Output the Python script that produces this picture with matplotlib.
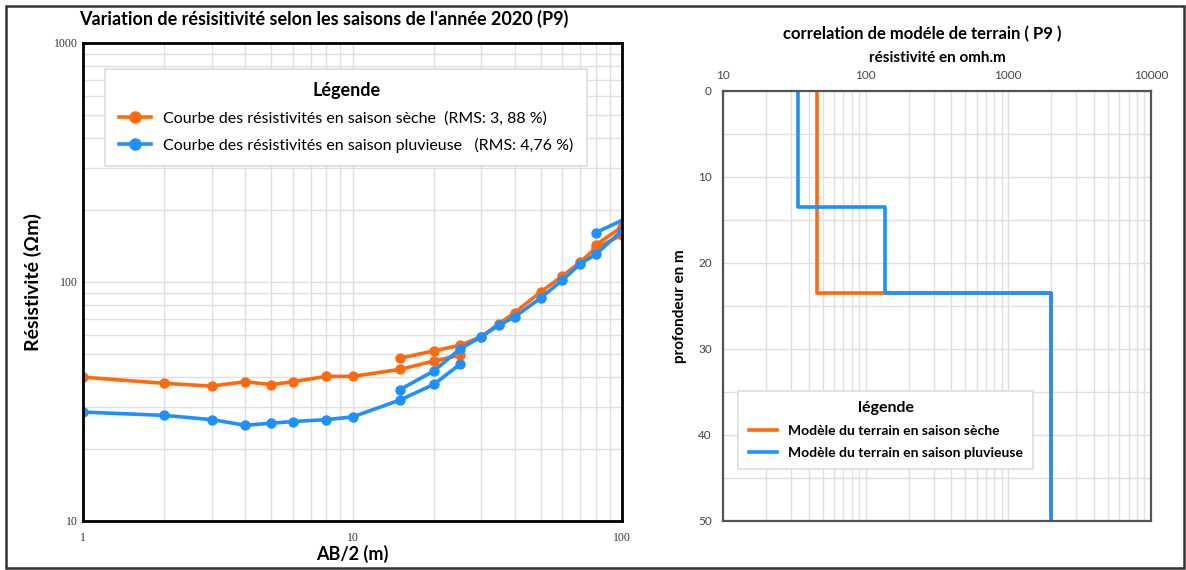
import matplotlib
matplotlib.use("Agg")
import matplotlib.pyplot as plt
from matplotlib.patches import Rectangle
from matplotlib.ticker import LogLocator, FixedLocator, NullFormatter, FuncFormatter

plt.rcParams['font.family'] = ['Lato', 'DejaVu Sans']

ORANGE = '#ff6a0e'
BLUE = '#1e90ff'

# courbes de sondage (segments qui se chevauchent)
ab2_seg1 = [1, 2, 3, 4, 5, 6, 8, 10, 15, 20, 25]
ab2_seg2 = [15, 20, 25, 30, 35, 40, 50, 60, 70, 80, 100]
ab2_seg3 = [80, 100]

rho_sec_1 = [39.9, 37.6, 36.6, 38.2, 37.1, 38.2, 40.2, 40.2, 43.0, 46.6, 49.3]
rho_sec_2 = [47.9, 51.4, 54.2, 58.9, 66.9, 74.4, 90.8, 105.7, 121, 139, 157]
rho_sec_3 = [143, 170]

rho_pluie_1 = [28.5, 27.6, 26.5, 25.1, 25.6, 26.0, 26.5, 27.2, 32.0, 37.2, 45.1]
rho_pluie_2 = [35.4, 42.3, 52.3, 58.9, 65.9, 71.4, 85.7, 101.6, 119, 130.6, 164]
rho_pluie_3 = [160.7, 181]

# modèles de terrain
rho_mod_sec = [45.8, 45.8, 2000, 2000]
prof_mod_sec = [0, 23.5, 23.5, 50]
rho_mod_pluie = [33.5, 33.5, 136, 136, 2000, 2000]
prof_mod_pluie = [0, 13.5, 13.5, 23.5, 23.5, 50]

fig = plt.figure(figsize=(11.86, 5.70), dpi=100)

# ---- graphique de gauche
ax = fig.add_axes([0.0700, 0.0865, 0.4545, 0.8381])
ax.set_xscale('log')
ax.set_yscale('log')
ax.set_xlim(1, 100)
ax.set_ylim(10, 1000)

kw = dict(marker='o', markersize=7.5, linewidth=2.6, markeredgewidth=0)
l1, = ax.plot(ab2_seg1, rho_sec_1, color=ORANGE, **kw)
ax.plot(ab2_seg2, rho_sec_2, color=ORANGE, **kw)
ax.plot(ab2_seg3, rho_sec_3, color=ORANGE, **kw)
l2, = ax.plot(ab2_seg1, rho_pluie_1, color=BLUE, **kw)
ax.plot(ab2_seg2, rho_pluie_2, color=BLUE, **kw)
ax.plot(ab2_seg3, rho_pluie_3, color=BLUE, markevery=[0], **kw)

ax.xaxis.set_major_locator(FixedLocator([1, 10, 100]))
ax.yaxis.set_major_locator(FixedLocator([10, 100, 1000]))
ax.xaxis.set_minor_locator(LogLocator(base=10, subs=range(2, 10)))
ax.yaxis.set_minor_locator(LogLocator(base=10, subs=range(2, 10)))
ax.xaxis.set_minor_formatter(NullFormatter())
ax.yaxis.set_minor_formatter(NullFormatter())
fmt = FuncFormatter(lambda v, p: '%d' % v)
ax.xaxis.set_major_formatter(fmt)
ax.yaxis.set_major_formatter(fmt)
ax.tick_params(which='both', length=0)
ax.tick_params(axis='both', labelsize=8.5, colors='#333333')
for lab in ax.get_xticklabels() + ax.get_yticklabels():
    lab.set_family('Liberation Serif')
ax.tick_params(axis='x', pad=8)
ax.tick_params(axis='y', pad=4)
ax.grid(True, which='both', color='#e0e0e0', linewidth=1)
ax.set_axisbelow(True)
for s in ax.spines.values():
    s.set_linewidth(2)
    s.set_color('black')

ax.set_title("Variation de résisitivité selon les saisons de l'année 2020 (P9)",
             fontsize=13, fontweight='bold', pad=13, x=0.446)
ax.set_xlabel('AB/2 (m)', fontsize=13, fontweight='bold', labelpad=1)
ax.set_ylabel('Résistivité (Ωm)', fontsize=14, fontweight='bold', labelpad=8)

leg = ax.legend([l1, l2],
                ['Courbe des résistivités en saison sèche  (RMS: 3, 88 %)',
                 'Courbe des résistivités en saison pluvieuse   (RMS: 4,76 %)'],
                title='Légende', loc='upper left',
                bbox_to_anchor=(0.026, 0.963), fontsize=11.5,
                title_fontproperties={'weight': 'bold', 'size': 13},
                fancybox=False, edgecolor='#dddddd', framealpha=1,
                borderpad=0.85, handlelength=2.0, labelspacing=0.75,
                markerscale=1.2)
leg.get_frame().set_linewidth(1.2)

# ---- graphique de droite
ax2 = fig.add_axes([0.6096, 0.0865, 0.3607, 0.7539])
ax2.set_xscale('log')
ax2.set_xlim(10, 10000)
ax2.set_ylim(50, 0)
m1, = ax2.plot(rho_mod_sec, prof_mod_sec, color=ORANGE, linewidth=2.6)
m2, = ax2.plot(rho_mod_pluie, prof_mod_pluie, color=BLUE, linewidth=2.6)

ax2.xaxis.set_major_locator(FixedLocator([10, 100, 1000, 10000]))
ax2.xaxis.set_minor_locator(LogLocator(base=10, subs=range(2, 10)))
ax2.xaxis.set_minor_formatter(NullFormatter())
ax2.xaxis.set_major_formatter(fmt)
ax2.yaxis.set_major_locator(FixedLocator([0, 10, 20, 30, 40, 50]))
ax2.yaxis.set_minor_locator(FixedLocator([5, 15, 25, 35, 45]))
ax2.xaxis.tick_top()
ax2.xaxis.set_label_position('top')
ax2.tick_params(which='both', length=0)
ax2.tick_params(axis='both', labelsize=8.5, colors='#444444')
ax2.tick_params(axis='x', pad=7)
ax2.tick_params(axis='y', pad=8)
ax2.grid(True, which='both', color='#e0e0e0', linewidth=1)
ax2.set_axisbelow(True)
for s in ax2.spines.values():
    s.set_linewidth(1.6)
    s.set_color('#555555')

ax2.set_xlabel('résistivité en omh.m', fontsize=11, fontweight='bold', labelpad=6)
ax2.set_ylabel('profondeur en m', fontsize=11, fontweight='bold', labelpad=8)
fig.text(0.7774, 0.94, 'correlation de modéle de terrain ( P9 )',
         ha='center', va='center', fontsize=12, fontweight='bold')

leg2 = ax2.legend([m1, m2],
                  ['Modèle du terrain en saison sèche',
                   'Modèle du terrain en saison pluvieuse'],
                  title='légende', loc='upper left',
                  bbox_to_anchor=(0.02, 0.318),
                  prop={'weight': 'bold', 'size': 10},
                  title_fontproperties={'weight': 'bold', 'size': 11.5},
                  fancybox=False, edgecolor='#dddddd', framealpha=1,
                  borderpad=0.75, handlelength=2.0, labelspacing=0.7)
leg2.get_frame().set_linewidth(1.2)

# cadre général
fig.patches.append(Rectangle((0.005, 0.004), 0.993, 0.986,
                             transform=fig.transFigure, fill=False,
                             edgecolor='#333333', linewidth=1.8))

fig.savefig('out.png', dpi=100)
